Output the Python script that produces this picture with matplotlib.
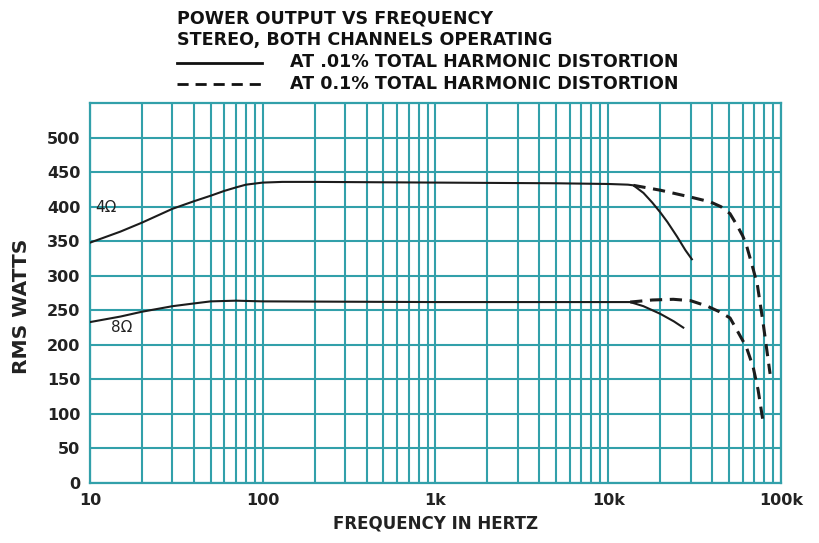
import numpy as np
import matplotlib.pyplot as plt
from matplotlib.ticker import FixedLocator, NullFormatter, NullLocator

# 4 ohm load, 0.01% THD (solid)
f_4_solid = [10, 15, 20, 25, 30, 40, 50, 60, 70, 80, 100, 130, 200, 1000, 5000, 10000,
             13000, 14000, 16000, 18000, 20000, 22000, 25000, 28000, 30500]
w_4_solid = [348, 364, 377, 388, 397, 408, 416, 423, 428, 432, 435, 436, 436, 435, 434, 433,
             432, 431, 420, 406, 392, 378, 357, 337, 324]
# 4 ohm load, 0.1% THD (dashed)
f_4_dash = [14000, 20000, 30000, 39000, 45000, 50700, 55700, 60000, 63000, 69000, 73000,
            79000, 86500]
w_4_dash = [431, 424, 414, 407, 400, 390, 373, 358, 345, 310, 287, 230, 158]
# 8 ohm load, 0.01% THD (solid)
f_8_solid = [10, 15, 20, 30, 40, 50, 70, 100, 1000, 10000, 13400, 16000, 20000, 24000, 27200]
w_8_solid = [233, 241, 248, 256, 260, 263, 264, 263, 262, 262, 262, 256, 245, 234, 225]
# 8 ohm load, 0.1% THD (dashed)
f_8_dash = [13400, 18000, 23800, 30000, 37500, 44000, 50700, 55700, 63000, 69000, 73700, 79000]
w_8_dash = [262, 265, 266, 264, 256, 248, 239, 221, 197, 168, 135, 87]

y_ticks = [0, 50, 100, 150, 200, 250, 300, 350, 400, 450, 500]
x_major = [10, 100, 1000, 10000, 100000]
x_labels = ['10', '100', '1k', '10k', '100k']

teal = '#32a0aa'
ink = '#1c1c1c'
plt.rcParams['font.family'] = ['DejaVu Sans']

fig = plt.figure(figsize=(8.2, 5.43), dpi=100)
ax = fig.add_axes([0.1097, 0.1105, 0.8427, 0.6995])

ax.set_xscale('log')
ax.set_xlim(10, 100000)
ax.set_ylim(0, 550)

# log paper grid: every 1..9 in each decade
grid_x = [m * 10 ** d for d in range(1, 5) for m in range(1, 10)] + [100000]
for gx in grid_x:
    ax.axvline(gx, color=teal, lw=1.5, zorder=1)
for gy in y_ticks:
    ax.axhline(gy, color=teal, lw=1.5, zorder=1)
for s in ax.spines.values():
    s.set_color(teal)
    s.set_linewidth(1.6)

ax.plot(f_4_solid, w_4_solid, color=ink, lw=1.5, zorder=3)
ax.plot(f_8_solid, w_8_solid, color=ink, lw=1.5, zorder=3)
ax.plot(f_4_dash, w_4_dash, color=ink, lw=2.2, ls=(0, (4, 2.5)), zorder=3)
ax.plot(f_8_dash, w_8_dash, color=ink, lw=2.2, ls=(0, (4, 2.5)), zorder=3)

ax.text(10.8, 392, '4\u03a9', fontsize=11, color='#222222', zorder=4)
ax.text(13.3, 219, '8\u03a9', fontsize=11, color='#222222', zorder=4)

ax.xaxis.set_major_locator(FixedLocator(x_major))
ax.xaxis.set_minor_locator(NullLocator())
ax.xaxis.set_minor_formatter(NullFormatter())
ax.set_xticklabels(x_labels, fontsize=11.5, fontweight='bold', color='#222222')
ax.set_yticks(y_ticks)
ax.set_yticklabels([str(v) for v in y_ticks], fontsize=11.5, fontweight='bold', color='#222222')
ax.tick_params(length=0, pad=7)
ax.set_xlabel('FREQUENCY IN HERTZ', fontsize=12, fontweight='bold', color='#222222', labelpad=5)
ax.set_ylabel('RMS WATTS', fontsize=14.5, fontweight='bold', color='#222222')
ax.yaxis.set_label_coords(-0.085, 0.465)

# header / legend
hdr = dict(fontsize=12.6, fontweight='bold', color='#111111', va='center')
fig.text(177 / 820, 1 - 18 / 543, 'POWER OUTPUT VS FREQUENCY', **hdr)
fig.text(177 / 820, 1 - 40 / 543, 'STEREO, BOTH CHANNELS OPERATING', **hdr)
fig.text(290 / 820, 1 - 62 / 543, 'AT .01% TOTAL HARMONIC DISTORTION', **hdr)
fig.text(290 / 820, 1 - 84 / 543, 'AT 0.1% TOTAL HARMONIC DISTORTION', **hdr)
fig.add_artist(plt.Line2D([177 / 820, 262 / 820], [1 - 63 / 543, 1 - 63 / 543],
                          color='#111111', lw=2, transform=fig.transFigure))
fig.add_artist(plt.Line2D([177 / 820, 262 / 820], [1 - 84 / 543, 1 - 84 / 543],
                          color='#111111', lw=2, ls=(0, (4, 2.5)), transform=fig.transFigure))

fig.savefig('out.png', dpi=100)
